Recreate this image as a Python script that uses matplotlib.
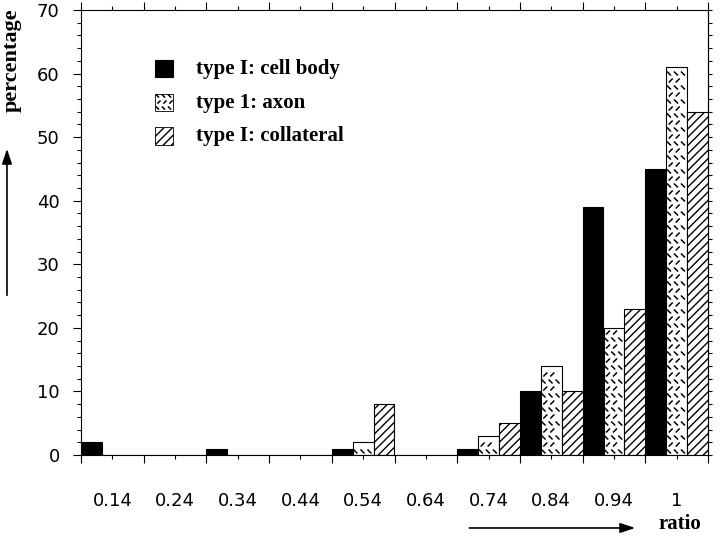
import numpy as np
import matplotlib
matplotlib.use('Agg')
import matplotlib.pyplot as plt
from matplotlib.patches import Rectangle
from matplotlib.collections import LineCollection
from matplotlib.transforms import IdentityTransform

# data (percentage per ratio bin)
groups = ['0.14', '0.24', '0.34', '0.44', '0.54', '0.64', '0.74', '0.84', '0.94', '1']
cell_body = [2, 0, 1, 0, 1, 0, 1, 10, 39, 45]
axon = [0, 0, 0, 0, 2, 0, 3, 14, 20, 61]
collateral = [0, 0, 0, 0, 8, 0, 5, 10, 23, 54]
series_labels = ['type I: cell body', 'type 1: axon', 'type I: collateral']

plt.rcParams['hatch.linewidth'] = 1.0
serif = 'Liberation Serif'


def add_dash_texture(ax, patch, step=7.0, size=2.0):
    # short diagonal dashes kept inside the patch (the "axon" fill)
    bb = patch.get_extents()
    m = size + 0.5
    segs = []
    row = 0
    y = bb.y0 + step / 2
    while y <= bb.y1 - m:
        x = bb.x0 + (step / 2 if row % 2 else step / 4) + 1.0
        sign = 1 if row % 2 == 0 else -1
        while x <= bb.x1 - m:
            if x >= bb.x0 + m and y >= bb.y0 + m:
                segs.append([(x - size, y + sign * size), (x + size, y - sign * size)])
            x += step
        y += step
        row += 1
    lc = LineCollection(segs, colors='black', linewidths=1.1,
                        transform=IdentityTransform())
    ax.add_collection(lc, autolim=False)


fig = plt.figure(figsize=(7.2, 5.37), dpi=100)
ax = fig.add_axes([81 / 720, 82 / 537, 627 / 720, 445 / 537])
ax.set_xlim(0, 30)
ax.set_ylim(0, 70)

idx = np.arange(len(groups)) * 3
ax.bar(idx, cell_body, width=1, align='edge', color='black', edgecolor='black', lw=0.8)
axon_bars = ax.bar(idx + 1, axon, width=1, align='edge', facecolor='white',
                   edgecolor='black', lw=0.8)
ax.bar(idx + 2, collateral, width=1, align='edge', facecolor='white',
       edgecolor='black', lw=0.8, hatch='////')

for bar, h in zip(axon_bars, axon):
    if h > 0:
        add_dash_texture(ax, bar)

# ticks
ax.set_xticks(np.arange(0, 31, 3))
ax.set_xticklabels([])
ax.set_xticks(idx + 1.5, minor=True)
ax.set_xticklabels(groups, minor=True, fontsize=13, family='DejaVu Sans')
ax.tick_params(axis='x', which='major', direction='out', length=5.8, width=0.8,
               top=True)
ax.tick_params(axis='x', which='minor', direction='out', length=2.9, width=0.8,
               top=True, pad=23.5)

ax.set_yticks(np.arange(0, 71, 10))
ax.set_yticks(np.arange(0, 71, 2), minor=True)
ax.tick_params(axis='y', which='major', direction='out', length=5.8, width=0.8,
               labelsize=13, pad=9.5)
ax.tick_params(axis='y', which='minor', direction='out', length=3.2, width=0.8)
for lab in ax.get_yticklabels():
    lab.set_family('DejaVu Sans')

sec = ax.secondary_yaxis('right')
sec.set_yticks(np.arange(0, 71, 2))
sec.set_yticklabels([])
sec.tick_params(direction='out', length=3.0, width=0.8)
sec.spines['right'].set_linewidth(0.8)

for sp in ax.spines.values():
    sp.set_linewidth(0.8)

# legend drawn by hand
leg_y = [0.849, 0.773, 0.697]
for i, (lab, y) in enumerate(zip(series_labels, leg_y)):
    if i == 0:
        r = Rectangle((0.118, y), 0.029, 0.039, transform=ax.transAxes,
                      facecolor='black', edgecolor='black', lw=0.8, clip_on=False)
        ax.add_patch(r)
    elif i == 1:
        r = Rectangle((0.118, y), 0.029, 0.039, transform=ax.transAxes,
                      facecolor='white', edgecolor='black', lw=0.6, clip_on=False)
        ax.add_patch(r)
        add_dash_texture(ax, r, step=6.0, size=1.6)
    else:
        r = Rectangle((0.118, y), 0.029, 0.039, transform=ax.transAxes,
                      facecolor='white', edgecolor='black', lw=0.6, hatch='////',
                      clip_on=False)
        ax.add_patch(r)
    ax.text(0.183, y + 0.019, lab, transform=ax.transAxes, va='center', ha='left',
            fontsize=15, fontweight='bold', family=serif)

# axis captions with arrows
fig.text(0.017, 0.888, 'percentage', rotation=90, ha='center', va='center',
         fontsize=16, fontweight='bold', family=serif)
ax.annotate('', xy=(0.0097, 0.728), xytext=(0.0097, 0.445),
            xycoords='figure fraction', textcoords='figure fraction',
            arrowprops=dict(arrowstyle='-|>,head_length=0.9,head_width=0.3',
                            color='black', lw=1.2))
fig.text(0.944, 0.024, 'ratio', ha='center', va='center',
         fontsize=15, fontweight='bold', family=serif)
ax.annotate('', xy=(0.886, 0.0168), xytext=(0.648, 0.0168),
            xycoords='figure fraction', textcoords='figure fraction',
            arrowprops=dict(arrowstyle='-|>,head_length=0.9,head_width=0.3',
                            color='black', lw=1.2))

fig.savefig('out.png', dpi=100)
